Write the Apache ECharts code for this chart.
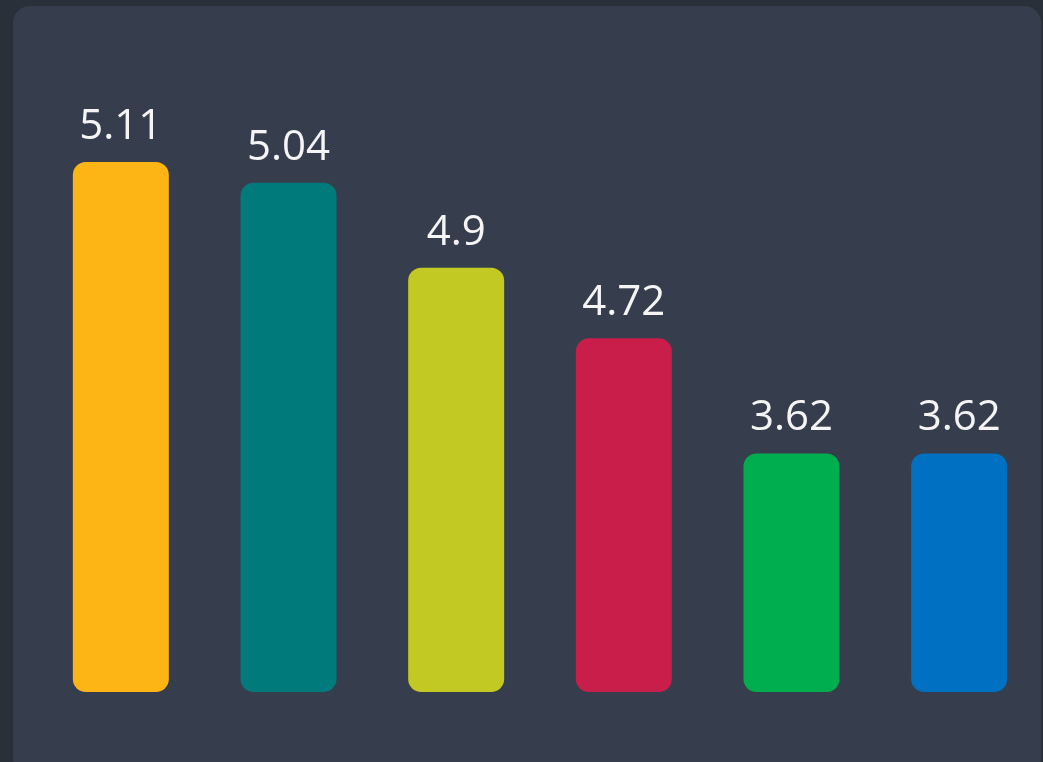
<!DOCTYPE html>
<html lang="en">
<head>
    <meta charset="UTF-8">
    <script src="https://cdn.jsdelivr.net/npm/echarts@6/dist/echarts.min.js"></script>
    <title>Bar chart</title>
    <style>
        html, body {
            margin: 0;
            padding: 0;
            width: 1043px;
            height: 762px;
            overflow: hidden;
            background: #29303a;
        }

        #panel {
            position: absolute;
            left: 13px;
            top: 6px;
            width: 1028px;
            height: 770px;
            border-radius: 17px;
            background: #363e4d;
        }

        #main {
            position: absolute;
            left: 0;
            top: 0;
            width: 1043px;
            height: 762px;
        }
    </style>
</head>

<body>
<div id="panel"></div>
<div id="main"></div>

<script>
    // values shown above each bar
    var labelValues = ['5.11', '5.04', '4.9', '4.72', '3.62', '3.62'];
    // bar heights as drawn in the picture (not proportional to the labels)
    var barHeights = [5.11, 4.91, 4.09, 3.41, 2.30, 2.30];
    var categories = ['A', 'B', 'C', 'D', 'E', 'F'];
    var barColors = ['#fdb415', '#017a7c', '#c2c923', '#c91e4a', '#00ae4f', '#0071c2'];

    var myChart = echarts.init(document.getElementById('main'));

    var seriesData = [];
    for (var i = 0; i < barHeights.length; i++) {
        seriesData.push({
            value: barHeights[i],
            itemStyle: {color: barColors[i]}
        });
    }

    var option = {
        backgroundColor: 'transparent',
        animation: false,
        grid: {
            left: 37,
            right: -1,
            top: 162,
            bottom: 70
        },
        xAxis: {
            type: 'category',
            data: categories,
            show: false
        },
        yAxis: {
            type: 'value',
            min: 0,
            max: 5.11,
            show: false
        },
        series: [
            {
                type: 'bar',
                data: seriesData,
                barWidth: 96,
                itemStyle: {
                    borderRadius: 13
                },
                label: {
                    show: true,
                    position: 'top',
                    distance: 14,
                    color: '#f5f5f5',
                    fontSize: 42,
                    fontFamily: "'Segoe UI', 'Open Sans', sans-serif",
                    formatter: function (p) {
                        return labelValues[p.dataIndex];
                    }
                }
            }
        ]
    };

    myChart.setOption(option);
</script>

</body>

</html>
